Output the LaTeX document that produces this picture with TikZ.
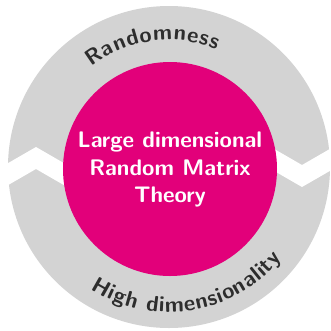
\documentclass[tikz,border=0pt]{standalone}
\usetikzlibrary{decorations.text}
\definecolor{ringgray}{RGB}{211,211,211}
\definecolor{rmtpink}{RGB}{226,0,122}
\definecolor{labelgray}{RGB}{45,45,45}
\tikzset{
  ringlabel/.style={decorate, decoration={text along path, text align=center,
      text color=labelgray,
      text={|\sffamily\bfseries\fontsize{22}{26}\selectfont\kern0.8pt|#1}}},
  theory/.style={text=white, font=\sffamily\bfseries\fontsize{22.5}{27.5}\selectfont,
      align=center, inner sep=0pt}
}

\begin{document}
\begin{tikzpicture}[x=1pt,y=1pt]
\useasboundingbox (-169,-163) rectangle (162,167);
% grey ring
\fill [ringgray] (0,0) circle (161);
% zigzag cuts: left one, then the same turned round
\foreach \r in {0,180} {
  \fill [white, rotate=\r] (-175,-4.2) -- (-133,20) -- (-90,-4.8)
    -- (-90,-26.8) -- (-133,-2) -- (-175,-26.2) -- cycle;
}
% centre disc
\fill [rmtpink] (1,-2) circle (107);
\node [theory] (rmt) at (1,-2.5) {Large dimensional\\Random Matrix\\Theory};
% labels round the ring
\path [ringlabel=Randomness] (160:127) arc (160:36:127);
\path [ringlabel=High dimensionality] (-170:145) arc (-170:8:145);
\end{tikzpicture}
\end{document}
